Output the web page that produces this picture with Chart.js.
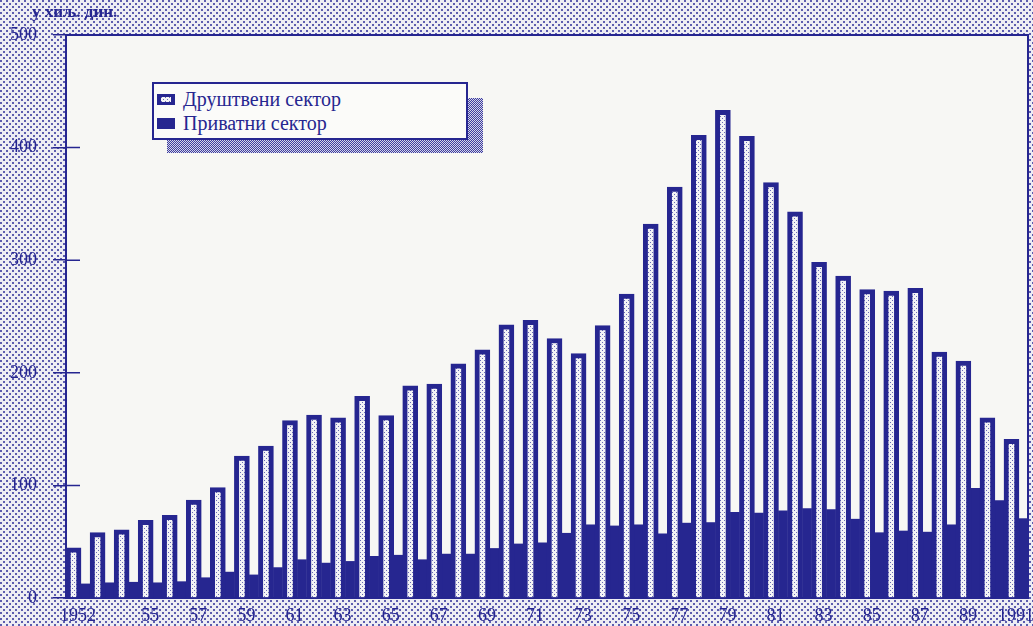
<!DOCTYPE html>
<html lang="sr">
<head>
<meta charset="utf-8">
<title>Друштвени и приватни сектор</title>
<script src="https://cdn.jsdelivr.net/npm/chart.js@4.4.1/dist/chart.umd.min.js"></script>
<style>
  html, body { margin: 0; padding: 0; }
  body {
    position: relative;
    width: 1033px;
    height: 626px;
    overflow: hidden;
    background-color: #dcdcea;
  }
  #chart { position: absolute; left: 0; top: 0; }
  #unit {
    position: absolute; left: 32px; top: 3px;
    font: bold 17px "Liberation Serif", serif;
    line-height: 17px;
    color: #262690;
  }
  #legendShadow {
    position: absolute; left: 167px; top: 98px; width: 316px; height: 55px;
    background-color: #9c9cc8;
  }
  #legend {
    position: absolute; left: 152px; top: 82px; width: 312px; height: 51px;
    background: #fbfbf9;
    border: 2px solid #262690;
    padding-top: 3px;
    box-sizing: content-box;
    font: 20px "Liberation Serif", serif;
    color: #262690;
  }
  .item { display: flex; align-items: center; height: 24px; padding-left: 3px; }
  .swatch { width: 18px; height: 11px; margin-right: 8px; box-sizing: border-box; }
  .swatch.hatched { border: 3px solid #262690; border-left-width: 4px; border-right-width: 4px; }
  .swatch.solid { background: #262690; border: 2px solid #262690; background-clip: border-box; }
</style>
</head>
<body>
<canvas id="chart" width="1033" height="626"></canvas>
<div id="unit">у хиљ. дин.</div>
<div id="legendShadow"></div>
<div id="legend"></div>
<script>
// Years on the x axis
const years = [1952, 1953, 1954, 1955, 1956, 1957, 1958, 1959, 1960, 1961,
               1962, 1963, 1964, 1965, 1966, 1967, 1968, 1969, 1970, 1971,
               1972, 1973, 1974, 1975, 1976, 1977, 1978, 1979, 1980, 1981,
               1982, 1983, 1984, 1985, 1986, 1987, 1988, 1989, 1990, 1991];

// Друштвени сектор (у хиљ. дин.)
const socialSector = [44.5, 58, 60.5, 69, 73.5, 87, 98, 126, 135, 157.5,
                      162.5, 160, 179, 162, 188.5, 190, 208, 220.5, 242.5, 246.5,
                      230.5, 217, 242, 270, 332, 365, 411, 433, 410, 369,
                      343, 298, 286, 274, 272.5, 275, 218.5, 210.5, 160, 141];

// Приватни сектор (у хиљ. дин.)
const privateSector = [12.5, 13.5, 14, 13.5, 14.5, 18, 23, 20.5, 27, 34,
                       31, 32.5, 37, 38, 34, 39, 39, 44, 48, 49,
                       57.5, 65, 64, 65, 57, 66.5, 67, 76, 75.5, 77.5,
                       79.5, 78.5, 70, 58, 59.5, 58.5, 65, 97.5, 86.5, 70.5];

// Tick labels as printed under the bars
const tickYears = [1952, 1955, 1957, 1959, 1961, 1963, 1965, 1967, 1969, 1971,
                   1973, 1975, 1977, 1979, 1981, 1983, 1985, 1987, 1989, 1991];
const tickLabels = ['1952', '55', '57', '59', '61', '63', '65', '67', '69', '71',
                    '73', '75', '77', '79', '81', '83', '85', '87', '89', '1991'];
const yTicks = [0, 100, 200, 300, 400, 500];

const NAVY = '#262690';
const SERIF = '"Liberation Serif", "DejaVu Serif", serif';

// small dotted tile, used for the page, the legend shadow and the bars
function dotTile(size, bg, dot, dots) {
    const c = document.createElement('canvas');
    c.width = size;
    c.height = size;
    const g = c.getContext('2d');
    g.fillStyle = bg;
    g.fillRect(0, 0, size, size);
    g.fillStyle = dot;
    dots.forEach(d => g.fillRect(d[0], d[1], d[2], d[2]));
    return c;
}

const pageTile = dotTile(6, '#ededf3', '#5c5cae', [[0, 0, 2], [3, 3, 2]]);
const shadowTile = dotTile(2, '#d6d6e8', '#3c3ca0', [[0, 0, 1], [1, 1, 1]]);
const barTile = dotTile(4, '#f3f3f6', '#6a6ab4', [[0, 0, 1], [2, 2, 1]]);

document.body.style.backgroundImage = 'url(' + pageTile.toDataURL() + ')';
document.getElementById('legendShadow').style.backgroundImage = 'url(' + shadowTile.toDataURL() + ')';

// Paper background of the plot, top/right frame and the inner half of the y ticks
const plotFrame = {
    id: 'plotFrame',
    beforeDraw(chart) {
        const { ctx, chartArea: a } = chart;
        ctx.save();
        ctx.fillStyle = '#f7f7f4';
        ctx.fillRect(a.left, a.top, a.right - a.left, a.bottom - a.top);
        ctx.restore();
    },
    afterDraw(chart) {
        const { ctx, chartArea: a, scales } = chart;
        ctx.save();
        ctx.strokeStyle = NAVY;
        ctx.lineWidth = 2;
        ctx.beginPath();
        ctx.moveTo(a.left, a.top);
        ctx.lineTo(a.right, a.top);
        ctx.lineTo(a.right, a.bottom);
        ctx.stroke();
        ctx.lineWidth = 1.5;
        ctx.beginPath();
        scales.y.ticks.forEach(t => {
            const py = scales.y.getPixelForValue(t.value);
            ctx.moveTo(a.left, py);
            ctx.lineTo(a.left + 14, py);
        });
        ctx.stroke();
        ctx.restore();
    }
};

const barPattern = document.getElementById('chart').getContext('2d').createPattern(barTile, 'repeat');

const chart = new Chart(document.getElementById('chart').getContext('2d'), {
    type: 'bar',
    data: {
        labels: years,
        datasets: [{
            label: 'Друштвени сектор',
            data: socialSector,
            backgroundColor: barPattern,
            borderColor: NAVY,
            borderWidth: 5,
            barThickness: 15
        }, {
            label: 'Приватни сектор',
            data: privateSector,
            backgroundColor: NAVY,
            borderWidth: 0,
            barThickness: 9
        }]
    },
    options: {
        responsive: false,
        animation: false,
        layout: { padding: { top: 35, right: 5, left: 0, bottom: 0 } },
        plugins: {
            legend: { display: false },
            tooltip: { enabled: false }
        },
        scales: {
            x: {
                type: 'linear',
                min: 1951.375,
                max: 1991.375,
                offset: false,
                grid: { display: true, offset: false, drawOnChartArea: false, drawTicks: false, color: NAVY },
                border: { color: NAVY, width: 2 },
                afterBuildTicks: s => { s.ticks = tickYears.map(v => ({ value: v })); },
                afterFit: s => { s.height = 28; s.paddingLeft = 0; s.paddingRight = 0; },
                ticks: {
                    autoSkip: false,
                    maxRotation: 0,
                    padding: 7,
                    labelOffset: -3,
                    color: NAVY,
                    font: { family: SERIF, size: 18 },
                    callback: (v, i) => tickLabels[i]
                }
            },
            y: {
                min: 0,
                max: 500,
                afterBuildTicks: s => { s.ticks = yTicks.map(v => ({ value: v })); },
                afterFit: s => { s.width = 66; },
                grid: { drawOnChartArea: false, color: NAVY, lineWidth: 1.5, tickLength: 13 },
                border: { color: NAVY, width: 2 },
                ticks: {
                    padding: 16,
                    color: NAVY,
                    font: { family: SERIF, size: 18 }
                }
            }
        }
    },
    plugins: [plotFrame]
});

// HTML legend built from the datasets
const legendEl = document.getElementById('legend');
chart.data.datasets.forEach((ds, i) => {
    const row = document.createElement('div');
    row.className = 'item';
    const sw = document.createElement('span');
    sw.className = 'swatch ' + (i === 0 ? 'hatched' : 'solid');
    if (i === 0) sw.style.backgroundImage = 'url(' + barTile.toDataURL() + ')';
    const txt = document.createElement('span');
    txt.textContent = ds.label;
    row.appendChild(sw);
    row.appendChild(txt);
    legendEl.appendChild(row);
});
</script>
</body>
</html>
